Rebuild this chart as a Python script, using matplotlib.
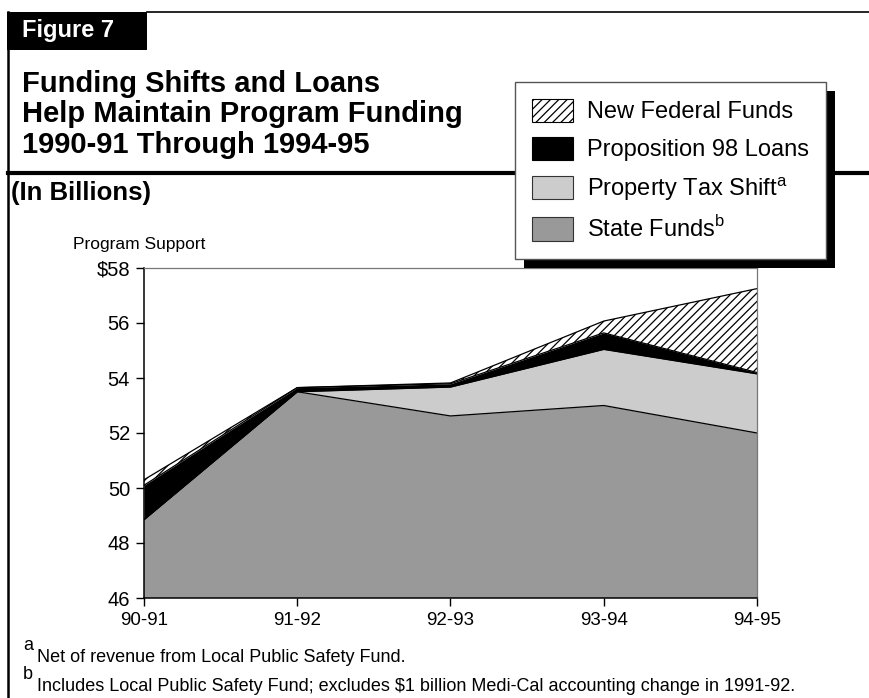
import matplotlib
matplotlib.use("Agg")
import numpy as np
import matplotlib.pyplot as plt
from matplotlib.patches import Patch, Rectangle
from matplotlib.lines import Line2D

# Program support by source, in billions of dollars
years = ["90-91", "91-92", "92-93", "93-94", "94-95"]
state_funds = [48.85, 53.50, 52.62, 53.00, 52.00]
property_tax_shift = [0.00, 0.00, 1.05, 2.04, 2.15]
prop98_loans = [1.25, 0.15, 0.12, 0.60, 0.05]
new_federal = [0.20, 0.00, 0.03, 0.43, 3.05]

y_ticks = [46, 48, 50, 52, 54, 56, 58]
y_tick_labels = [r"\$58" if t == 58 else str(t) for t in y_ticks]

plt.rcParams["font.family"] = ["Liberation Sans", "DejaVu Sans"]
plt.rcParams["mathtext.fontset"] = "custom"
plt.rcParams["mathtext.rm"] = "Liberation Sans"
plt.rcParams["hatch.linewidth"] = 0.9

W, H = 870, 698


def fx(px):
    return px / W


def fy(py):
    return 1 - py / H


fig = plt.figure(figsize=(W / 100, H / 100), dpi=100)
ax = fig.add_axes([fx(144), fy(598), fx(757) - fx(144), fy(268) - fy(598)])

x = np.arange(len(years))
layers = [state_funds, property_tax_shift, prop98_loans, new_federal]
colors = ["#999999", "#cccccc", "black", "white"]
hatches = [None, None, None, "////"]

# stack the layers from zero; the y limits crop the bottom
base = np.zeros(len(years))
for vals, col, hat in zip(layers, colors, hatches):
    top = base + np.array(vals)
    ax.fill_between(x, base, top, facecolor=col, edgecolor="black",
                    hatch=hat, linewidth=0)
    ax.plot(x, top, color="black", lw=0.9)
    base = top

ax.set_xlim(0, len(years) - 1)
ax.set_ylim(46, 58)
ax.set_xticks(x)
ax.set_xticklabels(years, fontsize=13.5)
ax.set_yticks(y_ticks)
ax.set_yticklabels(y_tick_labels, fontsize=14.5)
ax.tick_params(direction="out", length=6, width=1, color="black", pad=4)

for side in ["left", "bottom"]:
    ax.spines[side].set_color("black")
    ax.spines[side].set_linewidth(1.1)
for side in ["top", "right"]:
    ax.spines[side].set_color("#777777")
    ax.spines[side].set_linewidth(0.9)

# page frame, figure tab and rule under the title
fig.add_artist(Line2D([fx(147), fx(870)], [fy(12), fy(12)], color="black", lw=1.2))
fig.add_artist(Line2D([fx(8), fx(8)], [fy(12), fy(698)], color="black", lw=1.8))
fig.add_artist(Line2D([fx(8), fx(870)], [fy(173), fy(173)], color="black", lw=3))
fig.add_artist(Rectangle((fx(7), fy(50)), fx(147) - fx(7), fy(12) - fy(50),
                         facecolor="black", edgecolor="none"))
fig.text(fx(22), fy(31), "Figure 7", color="white", fontsize=17,
         fontweight="bold", va="center", ha="left")

title_lines = ["Funding Shifts and Loans",
               "Help Maintain Program Funding",
               "1990-91 Through 1994-95"]
for line, base_y in zip(title_lines, [92, 122, 153]):
    fig.text(fx(22), fy(base_y), line, fontsize=21, fontweight="bold",
             va="baseline", ha="left")

fig.text(fx(11), fy(200), "(In Billions)", fontsize=18.5, fontweight="bold",
         va="baseline", ha="left")
fig.text(fx(73), fy(249), "Program Support", fontsize=12.5,
         va="baseline", ha="left")

# footnotes
fig.text(fx(23), fy(650), "a", fontsize=13, va="baseline")
fig.text(fx(37), fy(662), "Net of revenue from Local Public Safety Fund.",
         fontsize=13, va="baseline")
fig.text(fx(23), fy(679), "b", fontsize=13, va="baseline")
fig.text(fx(37), fy(691),
         r"Includes Local Public Safety Fund; excludes \$1 billion Medi-Cal "
         "accounting change in 1991-92.",
         fontsize=13, va="baseline")

handles = [
    Patch(facecolor="white", edgecolor="black", hatch="////", lw=0.8),
    Patch(facecolor="black", edgecolor="black", lw=0.8),
    Patch(facecolor="#cccccc", edgecolor="#333333", lw=0.8),
    Patch(facecolor="#999999", edgecolor="#333333", lw=0.8),
]
labels = ["New Federal Funds", "Proposition 98 Loans",
          r"Property Tax Shift$^{\mathrm{a}}$", r"State Funds$^{\mathrm{b}}$"]
leg = fig.legend(handles, labels, loc="upper left",
                 bbox_to_anchor=(fx(515), fy(82)), fontsize=17,
                 frameon=True, fancybox=False, framealpha=1, borderpad=0.7,
                 handlelength=1.75, handleheight=1.15, handletextpad=0.6,
                 labelspacing=0.57, borderaxespad=0)
leg.get_frame().set_facecolor("white")
leg.get_frame().set_edgecolor("#555555")
leg.get_frame().set_linewidth(1)
leg.set_zorder(6)

# drop shadow behind the legend box
fig.canvas.draw()
bb = leg.get_window_extent().transformed(fig.transFigure.inverted())
fig.add_artist(Rectangle((bb.x0 + fx(9), bb.y0 - 9 / H), bb.width, bb.height,
                         facecolor="black", edgecolor="none", zorder=5.5))

fig.savefig("out.png", dpi=100)
